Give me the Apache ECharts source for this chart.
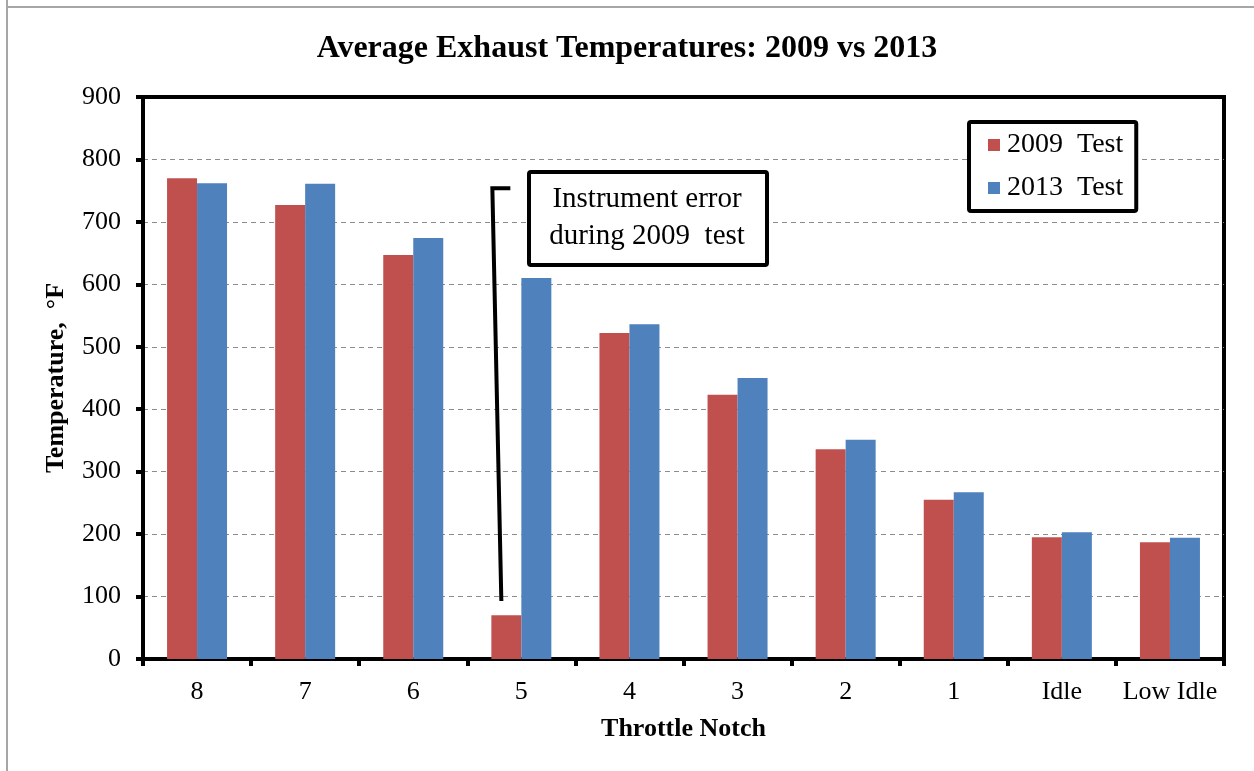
<!DOCTYPE html>
<html>
<head>
<meta charset="utf-8">
<script src="https://cdn.jsdelivr.net/npm/echarts@6/dist/echarts.min.js"></script>
<style>
html,body{margin:0;padding:0;background:#fff;}
#chart{width:1254px;height:771px;}
</style>
</head>
<body>
<div id="chart"></div>
<script>
const categories = ['8','7','6','5','4','3','2','1','Idle','Low Idle'];
const test2009 = [770, 727, 647, 70, 522, 423, 336, 255, 195, 187];
const test2013 = [762, 761, 674, 610, 536, 450, 351, 267, 203, 194];
const yTicks = [0, 100, 200, 300, 400, 500, 600, 700, 800, 900];
const seriesNames = ['2009  Test', '2013  Test'];
const titleText = 'Average Exhaust Temperatures: 2009 vs 2013';
const xTitle = 'Throttle Notch';
const yTitle = 'Temperature,  °F';
const noteLines = ['Instrument error', 'during 2009  test'];
// annotation leader: bottom point near the 2009 bar of notch 5, top point
const noteAnchorCategory = '5';
const noteAnchorLow = 93;
const noteAnchorHigh = 754;

const serif = '"Liberation Serif", "Times New Roman", serif';
const chart = echarts.init(document.getElementById('chart'));

const option = {
  animation: false,
  backgroundColor: '#ffffff',
  title: {
    text: titleText,
    left: 'center',
    top: 28,
    textStyle: { fontFamily: serif, fontWeight: 'bold', fontSize: 32, color: '#000' }
  },
  legend: {
    orient: 'vertical',
    left: 969,
    top: 122,
    padding: [8, 13, 8, 19],
    itemGap: 13,
    itemWidth: 12,
    itemHeight: 12,
    icon: 'rect',
    borderColor: '#000',
    borderWidth: 4,
    borderRadius: 2,
    backgroundColor: '#fff',
    textStyle: { fontFamily: serif, fontSize: 28, color: '#000', lineHeight: 30, padding: [0, 0, 0, 2] },
    data: seriesNames
  },
  grid: {
    left: 143, right: 30, top: 97, bottom: 112,
    show: true, borderColor: '#000', borderWidth: 4, containLabel: false
  },
  xAxis: {
    type: 'category',
    data: categories,
    boundaryGap: true,
    axisLine: { lineStyle: { color: '#000', width: 4 } },
    axisTick: { show: true, alignWithLabel: false, length: 7, lineStyle: { color: '#000', width: 4 } },
    axisLabel: { fontFamily: serif, fontSize: 26, color: '#000', margin: 20, interval: 0 },
    name: xTitle,
    nameLocation: 'middle',
    nameGap: 57,
    nameTextStyle: { fontFamily: serif, fontWeight: 'bold', fontSize: 26, color: '#000' },
    splitLine: { show: false }
  },
  yAxis: {
    type: 'value',
    min: yTicks[0],
    max: yTicks[yTicks.length - 1],
    interval: 100,
    axisLine: { show: true, lineStyle: { color: '#000', width: 4 } },
    axisTick: { show: true, length: 7, lineStyle: { color: '#000', width: 4 } },
    axisLabel: { fontFamily: serif, fontSize: 26, color: '#000', margin: 22 },
    splitLine: { show: true, showMinLine: false, showMaxLine: false, lineStyle: { color: '#8c8c8c', width: 1, type: [5, 4] } },
    name: yTitle,
    nameLocation: 'middle',
    nameGap: 74,
    nameTextStyle: { fontFamily: serif, fontWeight: 'bold', fontSize: 26, color: '#000' }
  },
  series: [
    {
      name: seriesNames[0], type: 'bar', data: test2009,
      barWidth: 30, barGap: '0%',
      itemStyle: { color: '#C0504D' }
    },
    {
      name: seriesNames[1], type: 'bar', data: test2013,
      barWidth: 30, barGap: '0%',
      itemStyle: { color: '#4F81BD' }
    }
  ]
};
chart.setOption(option);

// Annotation leader and callout, positioned from the chart's own scales
const lowPt = chart.convertToPixel({ xAxisIndex: 0, yAxisIndex: 0 }, [noteAnchorCategory, noteAnchorLow]);
const highPt = chart.convertToPixel({ xAxisIndex: 0, yAxisIndex: 0 }, [noteAnchorCategory, noteAnchorHigh]);
const bx = lowPt[0] - 20; // near the centre of the 2009 bar
chart.setOption({
  graphic: [
    { type: 'line', shape: { x1: 7, y1: 0, x2: 7, y2: 771 }, style: { stroke: '#a6a6a6', lineWidth: 2 } },
    { type: 'line', shape: { x1: 7, y1: 7, x2: 1254, y2: 7 }, style: { stroke: '#a6a6a6', lineWidth: 2 } },
    {
      type: 'polyline', z: 100,
      shape: { points: [[bx, lowPt[1]], [bx - 9, highPt[1]], [bx + 9, highPt[1]]] },
      style: { stroke: '#000', lineWidth: 4, fill: null }
    },
    {
      type: 'rect', z: 100,
      shape: { x: 529, y: 172, width: 238, height: 93, r: 2 },
      style: { fill: '#fff', stroke: '#000', lineWidth: 4 }
    },
    {
      type: 'text', z: 101,
      x: 647, y: 218,
      style: {
        text: noteLines.join('\n'),
        font: '29px ' + serif,
        fill: '#000',
        align: 'center',
        verticalAlign: 'middle',
        lineHeight: 37
      }
    }
  ]
});
</script>
</body>
</html>
